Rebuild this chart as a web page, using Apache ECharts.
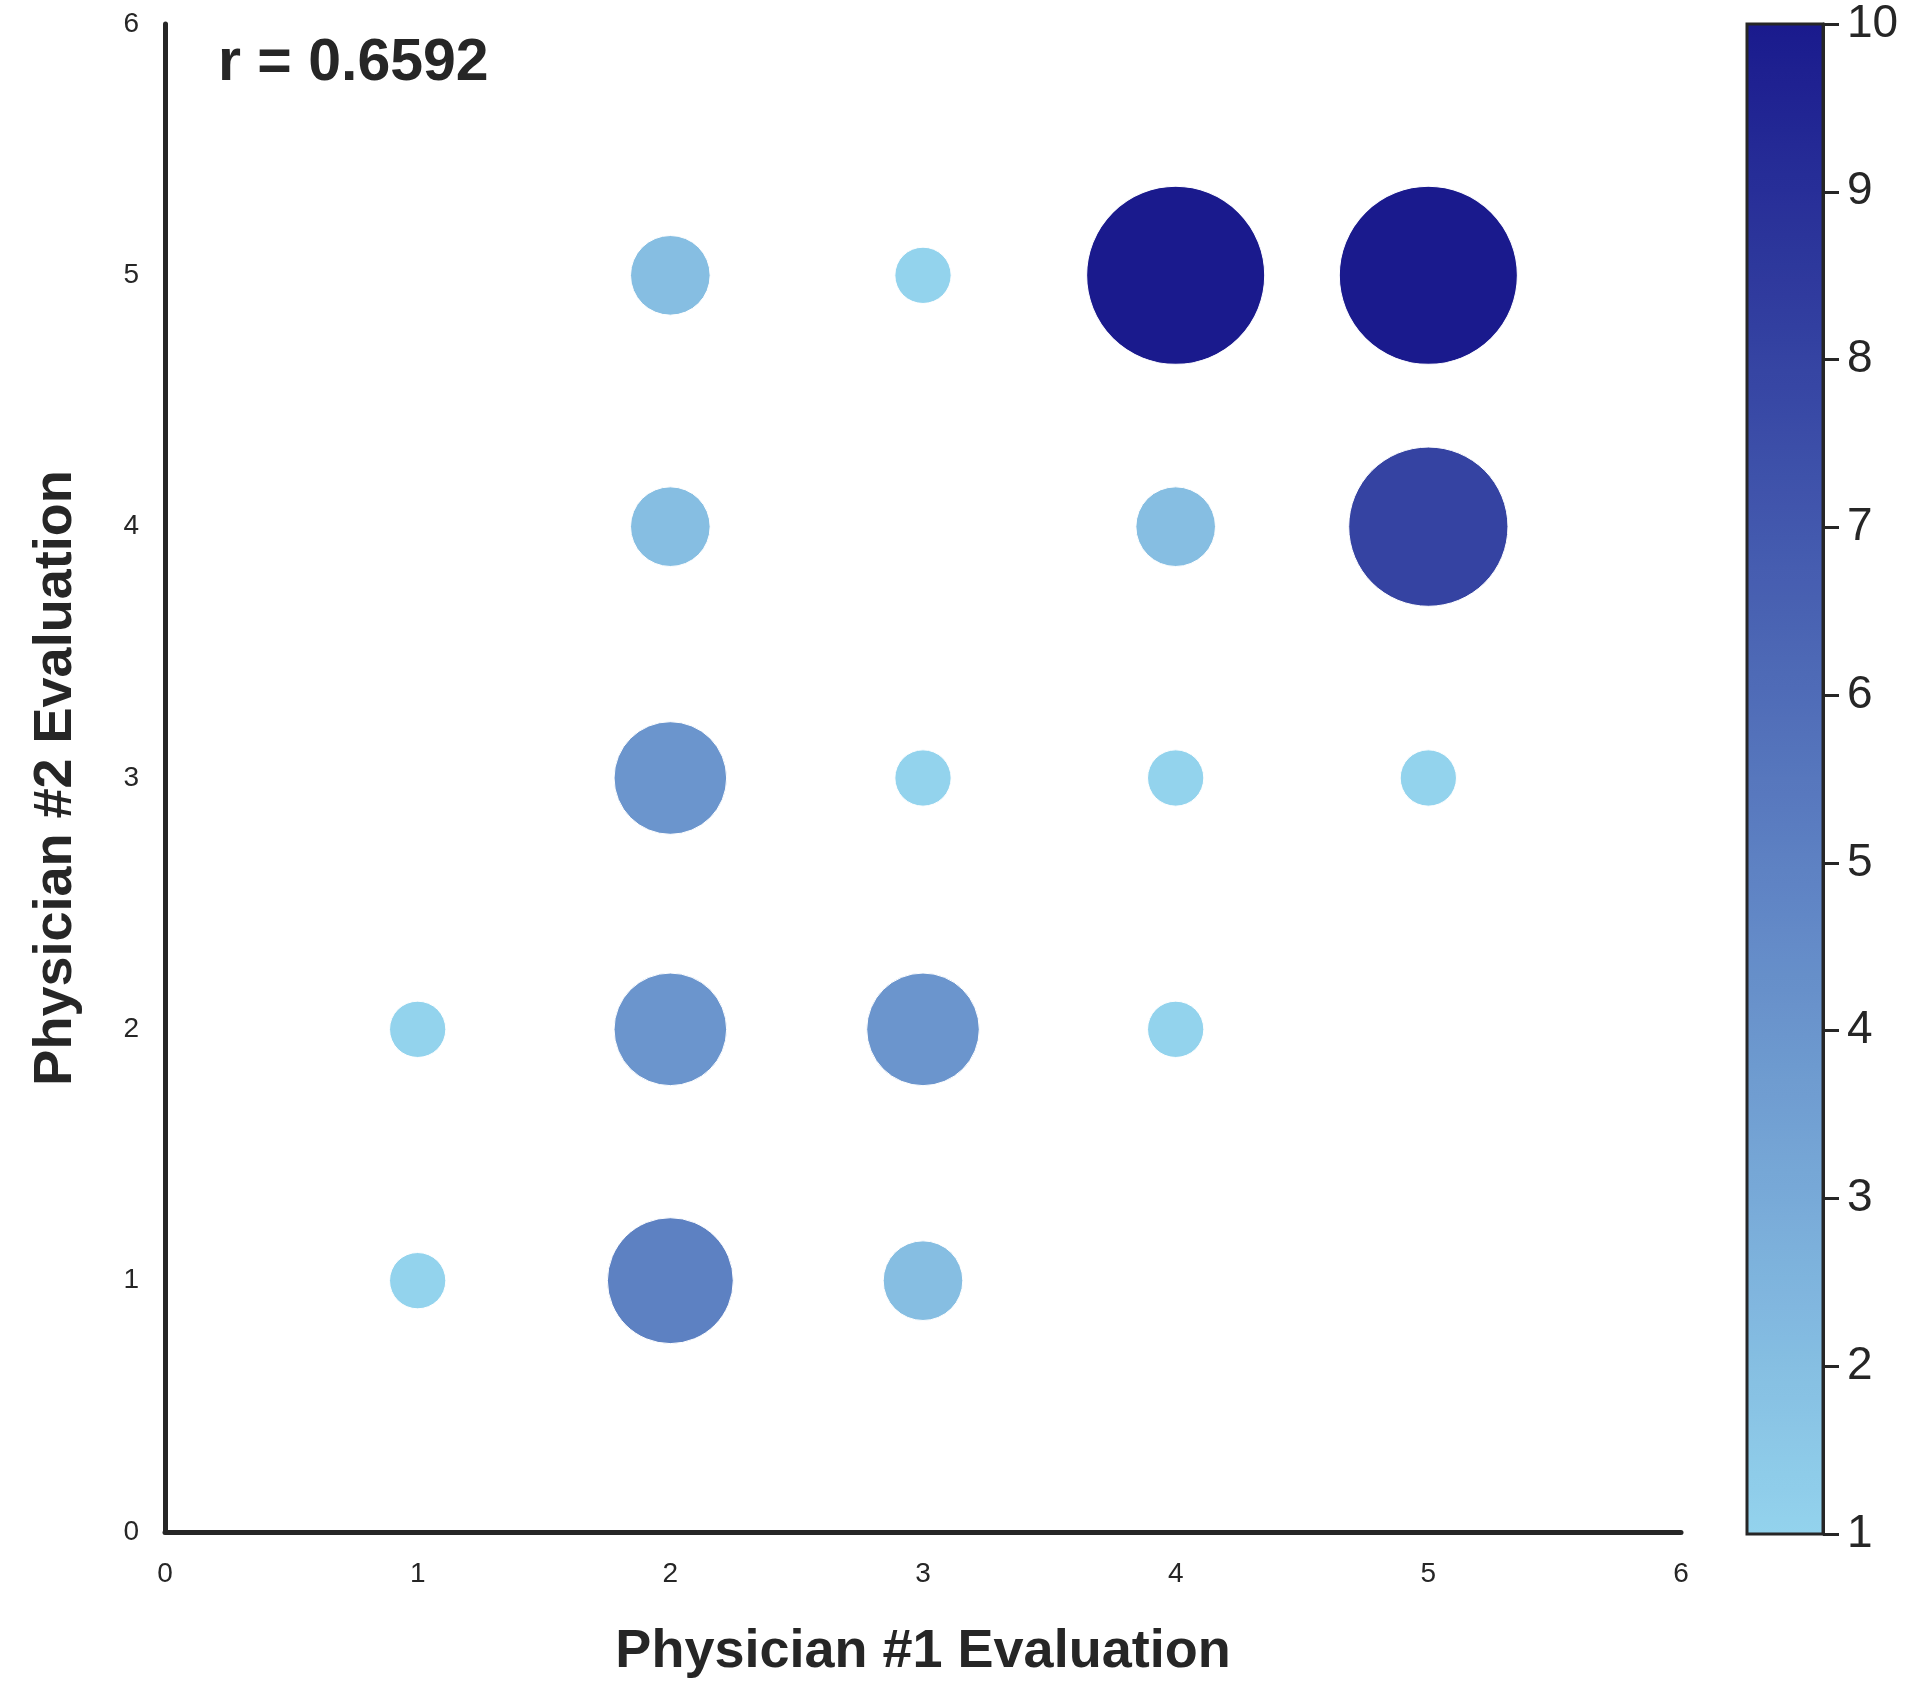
<!DOCTYPE html>
<html>
<head>
<meta charset="utf-8">
<title>Physician evaluations</title>
<script src="https://cdn.jsdelivr.net/npm/echarts@6/dist/echarts.min.js"></script>
<style>
  html, body { margin: 0; padding: 0; background: #fff; }
  #chart { width: 1920px; height: 1684px; }
</style>
</head>
<body>
<div id="chart"></div>
<script>
// counts of patients for each pair of evaluations
const physician1 = [1, 1, 2, 2, 2, 2, 2, 3, 3, 3, 3, 4, 4, 4, 4, 5, 5, 5];
const physician2 = [1, 2, 1, 2, 3, 4, 5, 1, 2, 3, 5, 2, 3, 4, 5, 3, 4, 5];
const counts     = [1, 1, 5, 4, 4, 2, 2, 2, 4, 1, 1, 1, 1, 2, 10, 1, 8, 10];
const axisTicks = [0, 1, 2, 3, 4, 5, 6];
const colorbarTicks = [1, 2, 3, 4, 5, 6, 7, 8, 9, 10];
const rText = "r = 0.6592";

const textColor = "#262626";
const font = "'Liberation Sans', Arial, sans-serif";

const points = physician1.map((x, i) => [x, physician2[i], counts[i]]);

const chart = echarts.init(document.getElementById("chart"));

const option = {
  animation: false,
  backgroundColor: "#fff",
  textStyle: { fontFamily: font, color: textColor },
  grid: [
    { left: 165, right: 239, top: 24, bottom: 150 },
    // colorbar frame
    { left: 1747, right: 97, top: 24, bottom: 150, show: true, z: 10,
      borderColor: textColor, borderWidth: 3, backgroundColor: "transparent" }
  ],
  xAxis: [
    {
      gridIndex: 0, type: "value", min: 0, max: 6, interval: 1,
      name: "Physician #1 Evaluation", nameLocation: "middle", nameGap: 93,
      nameTextStyle: { fontSize: 54, fontWeight: "bold", color: textColor, fontFamily: font },
      axisLine: { show: true, lineStyle: { color: textColor, width: 5 } },
      axisTick: { show: false },
      splitLine: { show: false },
      axisLabel: { fontSize: 28, color: textColor, margin: 28, fontFamily: font,
        formatter: v => axisTicks.includes(v) ? String(v) : "" }
    },
    { gridIndex: 1, type: "value", min: 0, max: 1, show: false }
  ],
  yAxis: [
    {
      gridIndex: 0, type: "value", min: 0, max: 6, interval: 1,
      name: "Physician #2 Evaluation", nameLocation: "middle", nameGap: 82,
      nameTextStyle: { fontSize: 54, fontWeight: "bold", color: textColor, fontFamily: font },
      axisLine: { show: true, lineStyle: { color: textColor, width: 5 } },
      axisTick: { show: false },
      splitLine: { show: false },
      axisLabel: { fontSize: 28, color: textColor, margin: 26, fontFamily: font,
        formatter: v => axisTicks.includes(v) ? String(v) : "" }
    },
    {
      gridIndex: 1, type: "value", position: "right",
      min: colorbarTicks[0], max: colorbarTicks[colorbarTicks.length - 1], interval: 1,
      axisLine: { show: true, onZero: false, lineStyle: { color: textColor, width: 3 } },
      axisTick: { show: true, inside: false, length: 16, lineStyle: { color: textColor, width: 3 } },
      splitLine: { show: false },
      axisLabel: { fontSize: 46, color: textColor, margin: 24, fontFamily: font }
    }
  ],
  visualMap: {
    type: "continuous",
    seriesIndex: 0,
    dimension: 2,
    min: 1,
    max: 10,
    calculable: false,
    hoverLink: false,
    text: null,
    showLabel: false,
    left: 1747,
    top: 24,
    padding: 0,
    itemWidth: 76,
    itemHeight: 1510,
    inRange: { color: ["#93D3ED", "#1A1A8D"] }
  },
  graphic: [
    {
      type: "text", left: 218, top: 34, z: 20,
      style: { text: rText, fontSize: 59, fontWeight: "bold", fill: textColor,
        fontFamily: font, verticalAlign: "middle" }
    }
  ],
  series: [
    {
      type: "scatter",
      xAxisIndex: 0,
      yAxisIndex: 0,
      data: points,
      symbol: "circle",
      symbolSize: d => 56.3 * Math.sqrt(d[2]),
      itemStyle: { borderColor: "#ffffff", borderWidth: 1, opacity: 1 },
      emphasis: { disabled: true }
    }
  ]
};

chart.setOption(option);
</script>
</body>
</html>
